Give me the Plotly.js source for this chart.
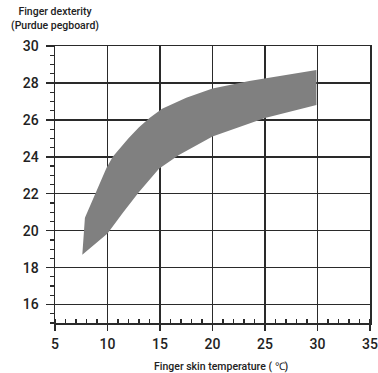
<!DOCTYPE html>
<html>
<head>
<meta charset="utf-8">
<script src="https://cdn.plot.ly/plotly-3.0.1.min.js"></script>
<style>html,body{margin:0;padding:0;background:#fff;}#chart{width:378px;height:373px;}</style>
</head>
<body>
<div id="chart"></div>
<script>
// Band boundaries (finger skin temperature °C vs Purdue pegboard score)
const upperX = [7.6, 7.85, 9.9, 10.5, 12.0, 13.0, 14.0, 15.2, 17.5, 20.0, 23.5, 26.0, 29.9];
const upperY = [18.7, 20.7, 23.4, 24.0, 25.0, 25.6, 26.1, 26.6, 27.2, 27.7, 28.1, 28.35, 28.7];
const lowerX = [7.6, 10.0, 11.5, 13.0, 14.9, 16.8, 20.0, 25.0, 29.9];
const lowerY = [18.7, 19.85, 21.0, 22.1, 23.35, 24.1, 25.1, 26.1, 26.8];
const xTicks = [5, 10, 15, 20, 25, 30, 35];
const yTicks = [16, 18, 20, 22, 24, 26, 28, 30];

const polyX = upperX.concat(lowerX.slice().reverse());
const polyY = upperY.concat(lowerY.slice().reverse());

const FONT = "Roboto, sans-serif";

const trace = {
  x: polyX, y: polyY, type: 'scatter', mode: 'lines',
  fill: 'toself', fillcolor: '#808080',
  line: {width: 0, color: '#808080'},
  hoverinfo: 'skip', showlegend: false
};

const layout = {
  width: 378, height: 373,
  margin: {l: 55, r: 8, t: 46, b: 50},
  paper_bgcolor: '#fff', plot_bgcolor: '#fff',
  font: {family: FONT, color: '#222'},
  xaxis: {
    range: [5, 35], tickvals: xTicks, ticktext: xTicks.map(String),
    showgrid: true, gridcolor: '#2a2a2a', gridwidth: 1.5,
    showline: true, linecolor: '#2a2a2a', linewidth: 1.5, mirror: true,
    ticks: 'outside', ticklen: 6, tickwidth: 1.5, tickcolor: '#2a2a2a',
    minor: {dtick: 1, ticks: 'inside', ticklen: 4, tickwidth: 1.2, tickcolor: '#2a2a2a', showgrid: false},
    tickfont: {size: 14, family: FONT, color: '#222', weight: 500},
    ticklabeloverflow: 'allow', ticklabelstandoff: 2,
    zeroline: false
  },
  yaxis: {
    range: [15, 30], tickvals: yTicks, ticktext: yTicks.map(String),
    showgrid: true, gridcolor: '#2a2a2a', gridwidth: 1.5,
    showline: true, linecolor: '#2a2a2a', linewidth: 1.5, mirror: true,
    ticks: 'outside', ticklen: 8, tickwidth: 1.5, tickcolor: '#2a2a2a',
    minor: {dtick: 0.5, ticks: 'outside', ticklen: 4, tickwidth: 1.2, tickcolor: '#2a2a2a', showgrid: false},
    tickfont: {size: 14, family: FONT, color: '#222', weight: 500},
    ticklabeloverflow: 'allow', ticklabelstandoff: 4,
    zeroline: false
  },
  annotations: [{
    xref: 'paper', yref: 'paper', x: 0, y: 1, xanchor: 'center', yanchor: 'bottom',
    yshift: 12, xshift: 0, showarrow: false, align: 'center',
    text: 'Finger dexterity<br>(Purdue pegboard)',
    font: {size: 10.5, family: FONT, color: '#222', weight: 500}
  }, {
    xref: 'paper', yref: 'paper', x: 0.5, y: 0, xanchor: 'center', yanchor: 'top',
    yshift: -35, xshift: 9, showarrow: false,
    text: 'Finger skin temperature ( ℃)',
    font: {size: 10.5, family: FONT, color: '#222', weight: 500}
  }]
};

Plotly.newPlot('chart', [trace], layout, {staticPlot: true, displayModeBar: false});
</script>
</body>
</html>
